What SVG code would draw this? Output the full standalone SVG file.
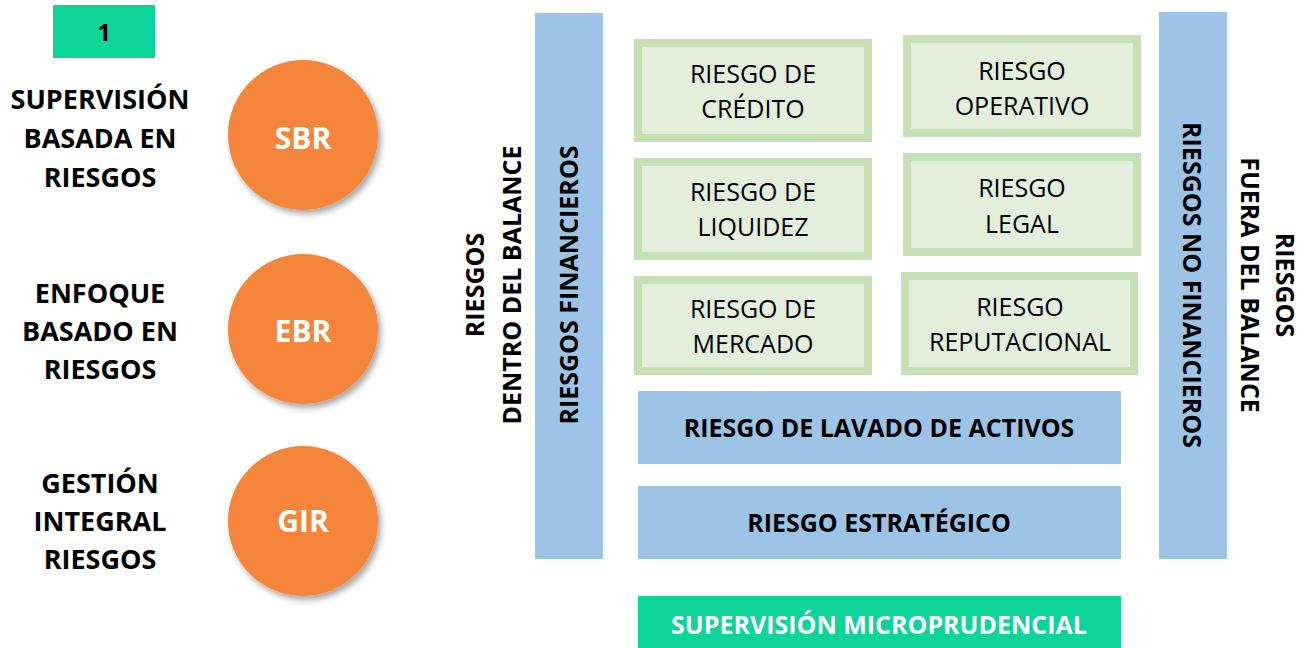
<svg xmlns="http://www.w3.org/2000/svg" width="1306" height="648" viewBox="0 0 1306 648">
<defs>
<filter id="sh" x="-20%" y="-20%" width="150%" height="150%">
<feDropShadow dx="3" dy="4" stdDeviation="3" flood-color="#000" flood-opacity="0.35"/>
</filter>
<style>
text{font-family:"Open Sans","Liberation Sans",sans-serif;text-anchor:middle}
.b{font-weight:bold}
.lbl{font-size:27px;font-weight:bold;fill:#000}
.circ{fill:#F4853A;filter:url(#sh)}
.ct{font-size:30px;font-weight:bold;fill:#fff}
.bar{fill:#9DC3E6}
.gbox{fill:#E2EFDA;stroke:#C5E0B4;stroke-width:8}
.gt{font-size:25px;fill:#000}
.vt{font-size:25px;font-weight:bold;fill:#000}
.ht{font-size:25px;font-weight:bold;fill:#000}
.mint{fill:#0DD498}
</style>
</defs>
<rect width="1306" height="648" fill="#fff"/>

<g id="num">
<rect class="mint" x="53" y="5" width="102" height="53"/>
<text x="104" y="41" class="b" font-size="24">1</text>
</g>

<g id="sbr-label">
<text class="lbl" x="100" y="109">SUPERVISIÓN</text>
<text class="lbl" x="100" y="148">BASADA EN</text>
<text class="lbl" x="100" y="187">RIESGOS</text>
</g>
<g id="sbr">
<circle class="circ" cx="303" cy="135" r="75"/>
<text class="ct" x="303" y="149">SBR</text>
</g>

<g id="ebr-label">
<text class="lbl" x="100" y="303">ENFOQUE</text>
<text class="lbl" x="100" y="341">BASADO EN</text>
<text class="lbl" x="100" y="379">RIESGOS</text>
</g>
<g id="ebr">
<circle class="circ" cx="303" cy="329" r="75"/>
<text class="ct" x="303" y="342">EBR</text>
</g>

<g id="gir-label">
<text class="lbl" x="100" y="493">GESTIÓN</text>
<text class="lbl" x="100" y="531">INTEGRAL</text>
<text class="lbl" x="100" y="569">RIESGOS</text>
</g>
<g id="gir">
<circle class="circ" cx="303" cy="521" r="75"/>
<text class="ct" x="303" y="532">GIR</text>
</g>

<g id="dentro-label">
<text class="vt" transform="translate(484,285) rotate(-90)">RIESGOS</text>
<text class="vt" transform="translate(521,285) rotate(-90)">DENTRO DEL BALANCE</text>
</g>

<g id="financieros">
<rect class="bar" x="535" y="13" width="68" height="546"/>
<text class="vt" transform="translate(578,285) rotate(-90)">RIESGOS FINANCIEROS</text>
</g>

<g id="credito">
<rect class="gbox" x="638" y="43" width="230" height="95"/>
<text class="gt" x="753" y="83">RIESGO DE</text>
<text class="gt" x="753" y="118">CRÉDITO</text>
</g>
<g id="liquidez">
<rect class="gbox" x="638" y="162" width="230" height="94"/>
<text class="gt" x="753" y="201">RIESGO DE</text>
<text class="gt" x="753" y="236">LIQUIDEZ</text>
</g>
<g id="mercado">
<rect class="gbox" x="638" y="280" width="230" height="91"/>
<text class="gt" x="753" y="318">RIESGO DE</text>
<text class="gt" x="753" y="353">MERCADO</text>
</g>

<g id="operativo">
<rect class="gbox" x="907" y="39" width="230" height="94"/>
<text class="gt" x="1022" y="80">RIESGO</text>
<text class="gt" x="1022" y="115">OPERATIVO</text>
</g>
<g id="legal">
<rect class="gbox" x="907" y="157" width="230" height="95"/>
<text class="gt" x="1022" y="197">RIESGO</text>
<text class="gt" x="1022" y="233">LEGAL</text>
</g>
<g id="reputacional">
<rect class="gbox" x="905" y="276" width="229" height="95"/>
<text class="gt" x="1020" y="316">RIESGO</text>
<text class="gt" x="1020" y="351">REPUTACIONAL</text>
</g>

<g id="lavado">
<rect class="bar" x="638" y="391" width="483" height="73"/>
<text class="ht" x="879" y="437">RIESGO DE LAVADO DE ACTIVOS</text>
</g>
<g id="estrategico">
<rect class="bar" x="638" y="486" width="483" height="73"/>
<text class="ht" x="879" y="532">RIESGO ESTRATÉGICO</text>
</g>

<g id="no-financieros">
<rect class="bar" x="1159" y="12" width="68" height="547"/>
<text class="vt" transform="translate(1183,285) rotate(90)">RIESGOS NO FINANCIEROS</text>
</g>

<g id="fuera-label">
<text class="vt" transform="translate(1276,285) rotate(90)">RIESGOS</text>
<text class="vt" transform="translate(1241,285) rotate(90)">FUERA DEL BALANCE</text>
</g>

<g id="micro">
<rect class="mint" x="638" y="596" width="483" height="52"/>
<text class="ht" x="879" y="634" style="fill:#fff">SUPERVISIÓN MICROPRUDENCIAL</text>
</g>

<g id="connectors"></g>
</svg>
